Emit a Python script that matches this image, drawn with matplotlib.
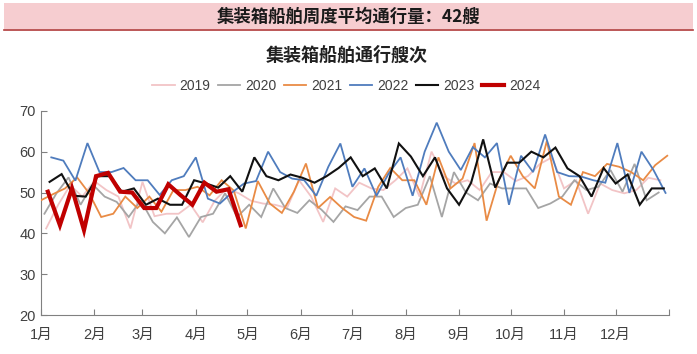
import pandas as pd
import matplotlib
matplotlib.use("Agg")
import matplotlib.pyplot as plt
from matplotlib.patches import Rectangle
from matplotlib.lines import Line2D

plt.rcParams['font.family'] = ['Liberation Sans', 'Noto Sans CJK SC']

# weekly container ship transits (Friday weeks)
years = ["2019", "2020", "2021", "2022", "2023", "2024"]
w2019 = [41.2, 47, 51.8, 49, 52.8, 50.6, 49, 41.2, 52.6, 44.2,
         44.8, 44.8, 47, 42.7, 48, 51, 49.8, 48, 47.3, 47,
         46.2, 53, 49, 42.8, 51, 49, 52.4, 51, 50.6, 53,
         55.9, 49, 60, 54, 52.2, 53, 50.6, 55, 55, 52.8,
         54, 57, 58.6, 51, 53, 44.8, 52.2, 50.6, 49.8, 50.6,
         53.6, 53]
w2020 = [44.8, 49.8, 53.7, 47, 52, 49, 47.7, 44, 48.1, 42.8,
         40, 43.9, 39.1, 44, 44.8, 49.8, 44, 47, 44, 51,
         46.2, 45, 48.1, 45.8, 42.8, 46.6, 45.7, 49, 49, 44,
         46.2, 47, 54, 44, 55, 50, 48.1, 52.2, 51, 51,
         51, 46.2, 47.3, 49, 53, 50.6, 51.4, 55.5, 50.2, 57,
         48.1, 50]
w2021 = [48.1, 49.6, 51, 53.7, 49.8, 44, 44.8, 49, 46.2, 49,
         45.3, 50.6, 50.6, 51.4, 49.3, 53, 50.5, 41.2, 52.8, 47.3,
         45, 50.2, 57.1, 46.2, 48.9, 46.2, 44, 43.1, 51.4, 56,
         53, 53, 47, 58.6, 51, 53.4, 62.1, 43.1, 53, 59,
         54, 51, 62.6, 49, 47, 55, 54, 57, 56.3, 55,
         53, 56.7, 59]
w2022 = [58.6, 57.8, 52.9, 62.1, 55, 55, 56, 53, 53, 49.4,
         53, 54, 58.6, 48.5, 47.3, 50, 52.2, 52.8, 60, 55,
         53.4, 53, 49.2, 56.3, 62, 51.4, 55.9, 49.2, 54.6, 58.6,
         49.2, 60, 67.1, 60, 55.5, 61.1, 58.6, 62.1, 47, 59,
         55, 64.2, 55, 54, 53.9, 53, 52.4, 62.1, 49.9, 60,
         55.5, 49.9]
w2023 = [52.6, 54.5, 49.2, 49, 54, 54, 50.2, 51, 47, 48.5,
         47, 47, 53, 52.2, 51.2, 54, 50.2, 58.6, 54, 53,
         54.4, 53.6, 52.4, 54, 56, 58.6, 54, 55.9, 51, 62,
         58.8, 54, 58.6, 51, 47, 52.4, 63, 51.2, 57.3, 57.3,
         60, 58.6, 61, 55.9, 54, 49, 56, 52.2, 54.4, 47,
         51, 51]
w2024 = [50.2, 42, 51, 40.8, 54, 54.8, 50.2, 50, 46.2, 46.2,
         52, 49.4, 47, 52.4, 50.2, 50.8, 42]
month_labels = ["1月", "2月", "3月", "4月", "5月", "6月",
                "7月", "8月", "9月", "10月", "11月", "12月"]

series = [w2019, w2020, w2021, w2022, w2023, w2024]
colors = ["#f2c4c6", "#a5a5a5", "#e98b45", "#4f7cbd", "#111111", "#c00000"]
widths = [1.3, 1.3, 1.3, 1.3, 1.5, 3.0]

fig = plt.figure(figsize=(6.97, 3.54), dpi=100)
ax = fig.add_axes([0.0588, 0.110, 0.901, 0.577])

for yr, vals, c, lw, z in zip(years, series, colors, widths, range(6)):
    d = pd.date_range(f"{yr}-01-01", f"{yr}-12-31", freq="W-FRI")[:len(vals)]
    doy = (d - pd.Timestamp(f"{yr}-01-01")).days
    ax.plot(doy, vals, color=c, lw=lw, zorder=z + 2, solid_joinstyle="miter")

month_starts = pd.date_range("2023-01-01", "2024-01-01", freq="MS")
tick_pos = (month_starts - pd.Timestamp("2023-01-01")).days
ax.set_xlim(0, 365)
ax.set_ylim(20, 70)
ax.set_xticks(tick_pos)
ax.set_xticklabels(month_labels + [""])
ax.set_yticks(range(20, 71, 10))
ax.tick_params(axis="both", direction="in", length=4, color="#808080",
               labelsize=10.5, labelcolor="#404040", width=0.8)
ax.tick_params(axis="x", pad=9)
for s in ["top", "right"]:
    ax.spines[s].set_visible(False)
for s in ["left", "bottom"]:
    ax.spines[s].set_color("#808080")
    ax.spines[s].set_linewidth(0.8)

handles = [Line2D([], [], color=c, lw=lw) for c, lw in zip(colors, widths)]
fig.legend(handles, years, loc="center", bbox_to_anchor=(0.497, 0.757), ncol=6,
           frameon=False, fontsize=10, handlelength=1.6, columnspacing=0.55,
           handletextpad=0.35, labelcolor="#404040")

fig.text(0.497, 0.845, "集装箱船舶通行艘次", ha="center", va="center",
         fontsize=13, family=["Noto Sans CJK SC"], weight="bold", color="#202020")

# banner on top
fig.patches.append(Rectangle((0.006, 0.917), 0.988, 0.075, transform=fig.transFigure,
                             facecolor="#f6cdd0", edgecolor="none"))
fig.add_artist(Line2D([0.006, 0.994], [0.915, 0.915], transform=fig.transFigure,
                      color="#b03a3a", lw=1.2))
fig.text(0.5, 0.953, "集装箱船舶周度平均通行量：42艘", ha="center", va="center",
         fontsize=12.5, family=["Noto Sans CJK SC"], weight="bold", color="#1a1a1a")

fig.savefig("out.png", dpi=100)
